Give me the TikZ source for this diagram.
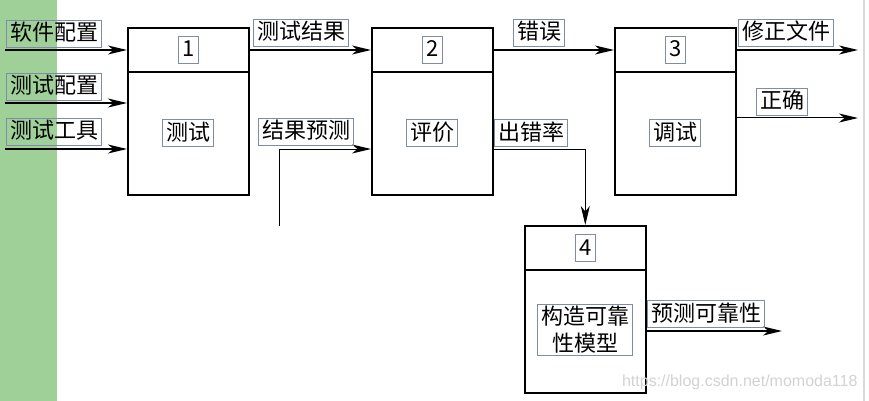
\documentclass[tikz,border=0pt]{standalone}
\usepackage{fontspec}
\setmainfont{Noto Sans CJK SC}
\newfontfamily\wmfont{Liberation Sans}
\usetikzlibrary{arrows.meta, positioning}

\definecolor{stripgreen}{RGB}{158,208,152}
\definecolor{tagline}{RGB}{128,140,165}

\tikzset{
  blk/.style={draw, line width=1.6pt, minimum width=121pt, minimum height=167pt, anchor=north west, inner sep=0pt},
  tag/.style={draw=tagline, line width=0.7pt, inner xsep=3.5pt, inner ysep=1.5pt, text height=19pt, text depth=5pt, font=\fontsize{22}{26}\selectfont},
  flow/.style={line width=1.3pt, -{Stealth[length=19pt, width=9pt, inset=5.5pt]}},
}

\begin{document}
\begin{tikzpicture}[x=1pt, y=-1pt]
\useasboundingbox (0,0) rectangle (869,401);
\fill[stripgreen] (0,0) rectangle (57,401);
\fill[gray!30] (862.5,0) rectangle (865,401);

% boxes
\node[blk] (box1) at (127,27) {};
\node[blk] (box2) at (371,27) {};
\node[blk] (box3) at (614,27) {};
\node[blk] (box4) at (524,225) {};
\foreach \b in {box1,box2,box3,box4}
  \draw[line width=1.2pt] ([yshift=-45pt]\b.north west) -- ([yshift=-45pt]\b.north east);

% numbers and names
\node[tag] (n1) at ([yshift=-23pt]box1.north) {1};
\node[tag] (n2) at ([yshift=-23pt]box2.north) {2};
\node[tag] (n3) at ([yshift=-23pt]box3.north) {3};
\node[tag] (n4) at ([yshift=-23pt]box4.north) {4};
\node[tag] (t1) at ([yshift=-106pt]box1.north) {测试};
\node[tag] (t2) at ([yshift=-106pt]box2.north) {评价};
\node[tag] (t3) at ([yshift=-106pt]box3.north) {调试};
\node[draw=tagline, line width=0.7pt, inner xsep=3.5pt, inner ysep=2pt, align=center,
      font=\fontsize{22}{27}\selectfont] (t4) at ([yshift=-105pt]box4.north) {构造可靠\\性模型};

% inputs of 1
\coordinate (in1) at (5,50);
\coordinate (in2) at (5,103);
\coordinate (in3) at (5,149);
\draw[flow] (in1) -- (in1 -| box1.west);
\draw[flow] (in2) -- (in2 -| box1.west);
\draw[flow] (in3) -- (in3 -| box1.west);
\node[tag] (l1) at (54,34) {软件配置};
\node[tag] (l2) at (54,87) {测试配置};
\node[tag] (l3) at (54,132) {测试工具};

% 1 -> 2
\draw[flow] ([yshift=-23pt]box1.north east) -- ([yshift=-23pt]box2.north west);
\node[tag] (l4) at (301,33) {测试结果};
\coordinate (pred) at (279,226);
\draw[flow, line width=1pt] (pred) |- ([yshift=-122pt]box2.north west);
\node[tag] (l5) at (306,132) {结果预测};

% 2 -> 3, 2 -> 4
\draw[flow] ([yshift=-23pt]box2.north east) -- ([yshift=-23pt]box3.north west);
\node[tag] (l6) at (539,33) {错误};
\draw[flow, line width=1pt] ([yshift=-122pt]box2.north east) -| (box4.north);
\node[tag] (l7) at (531,133) {出错率};

% outputs of 3
\coordinate (out1) at (858,50);
\coordinate (out2) at (858,118);
\draw[flow] ([yshift=-23pt]box3.north east) -- (out1);
\draw[flow, line width=1pt] (out2 -| box3.east) -- (out2);
\node[tag] (l8) at (786,33) {修正文件};
\node[tag] (l9) at (782,102) {正确};

% output of 4
\coordinate (out3) at (782,331);
\draw[flow] (out3 -| box4.east) -- (out3);
\node[tag] (l10) at (706,314) {预测可靠性};

\node[text=gray!35, font=\wmfont\fontsize{16}{18}\selectfont, anchor=east] (wm) at (861,382) {https://blog.csdn.net/momoda118};
\end{tikzpicture}
\end{document}
